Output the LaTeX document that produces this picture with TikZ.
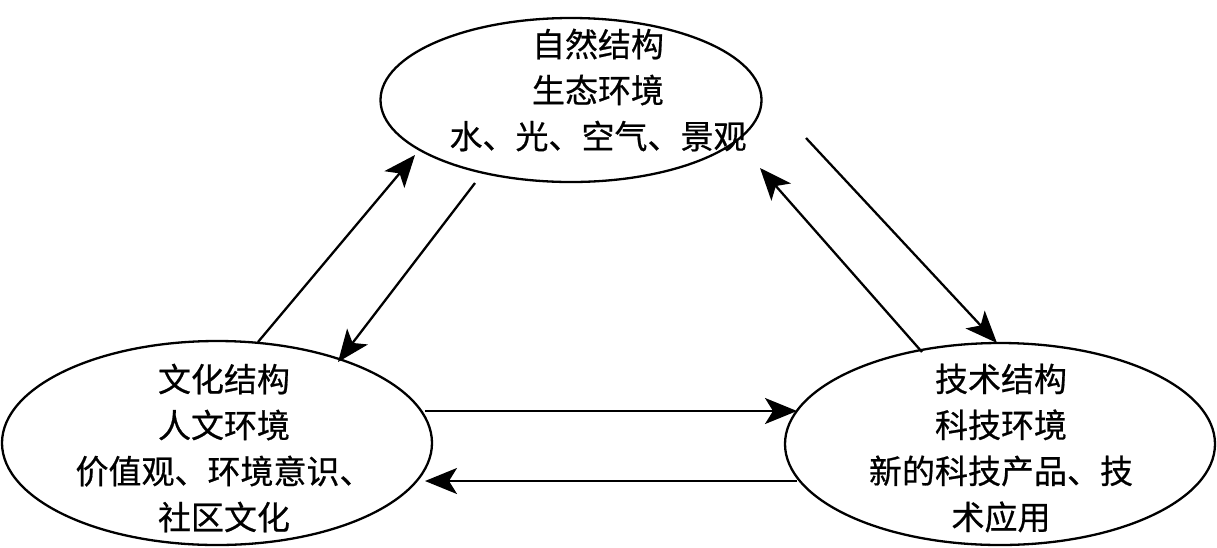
\documentclass[tikz,border=0pt]{standalone}
\usepackage{fontspec}
\newfontfamily\cjk[FakeBold=0.6]{Noto Sans CJK SC}
\usetikzlibrary{shapes.geometric,arrows.meta}
\begin{document}
\begin{tikzpicture}[x=1pt,y=-1pt,
  blob/.style={draw,line width=2.3pt,ellipse,inner sep=0pt},
  txt/.style={inner sep=0pt,align=center,font=\cjk\fontsize{33}{46}\selectfont},
  link/.style={line width=2.3pt,-{Stealth[length=32pt,width=26pt,inset=8pt]}}]
\useasboundingbox (0,0) rectangle (1217,547);
\node[blob,minimum width=381pt,minimum height=164pt] (nat) at (571,100) {};
\node[blob,minimum width=430pt,minimum height=204pt] (cul) at (217,443) {};
\node[blob,minimum width=430pt,minimum height=202pt] (tec) at (1000,444) {};
\node[txt] (natt) at (598,90) {自然结构\\生态环境\\水、光、空气、景观};
\node[txt] (cult) at (224,448) {文化结构\\人文环境\\价值观、环境意识、\\社区文化};
\node[txt] (tect) at (1001,448) {技术结构\\科技环境\\新的科技产品、技\\术应用};
\coordinate (a1) at (258,342); \coordinate (b1) at (415,155);
\coordinate (a2) at (475,183); \coordinate (b2) at (338,362);
\coordinate (a3) at (806,138); \coordinate (b3) at (997,343);
\coordinate (a4) at (922,352); \coordinate (b4) at (760,168);
\coordinate (a5) at (425,411); \coordinate (b5) at (797,411);
\coordinate (a6) at (797,481); \coordinate (b6) at (425,481);
\draw[link] (a1) -- (b1);
\draw[link] (a2) -- (b2);
\draw[link] (a3) -- (b3);
\draw[link] (a4) -- (b4);
\draw[link] (a5) -- (b5);
\draw[link] (a6) -- (b6);
\end{tikzpicture}
\end{document}
